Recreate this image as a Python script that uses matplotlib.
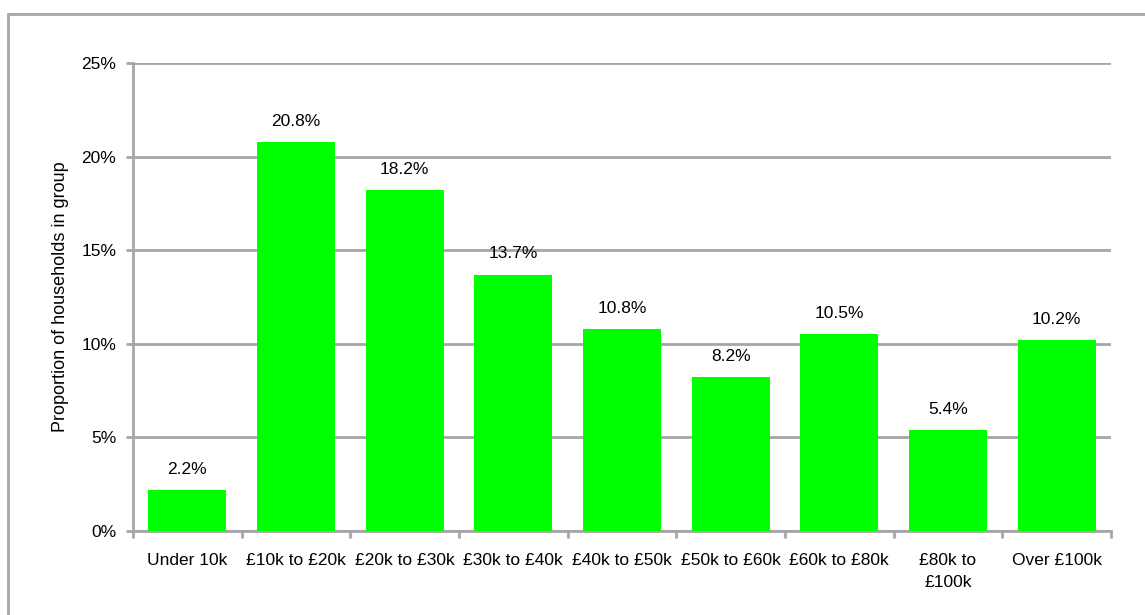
import matplotlib
matplotlib.use("Agg")
import matplotlib.pyplot as plt
from matplotlib.patches import Rectangle
from matplotlib.ticker import FuncFormatter, FixedLocator

plt.rcParams['font.family'] = ['Liberation Sans', 'DejaVu Sans']

# Household income bands and share of households
bandas = ["Under 10k", "£10k to £20k", "£20k to £30k", "£30k to £40k",
          "£40k to £50k", "£50k to £60k", "£60k to £80k", "£80k to\n£100k",
          "Over £100k"]
valores = [2.2, 20.8, 18.2, 13.7, 10.8, 8.2, 10.5, 5.4, 10.2]

GRIS = "#A6A6A6"
VERDE = "#00FF00"

fig = plt.figure(figsize=(11.45, 6.15), dpi=100)
ax = fig.add_axes([133/1145, 1-531/615, (1111-133)/1145, (531-63)/615])

# marco exterior del gráfico
fig.patches.append(Rectangle((8/1145, -0.05), 1.1, 1-14/615+0.05,
                             transform=fig.transFigure, fill=False,
                             edgecolor=GRIS, linewidth=2, clip_on=False))

x = range(len(bandas))
ax.bar(x, valores, width=0.72, color=VERDE, zorder=3)
for xi, v in zip(x, valores):
    ax.text(xi, v + 0.7, f"{v:.1f}%", ha="center", va="bottom", fontsize=12.5)

ax.set_xlim(-0.5, len(bandas) - 0.5)
ax.set_ylim(0, 25)
ax.set_yticks(range(0, 26, 5))
ax.yaxis.set_major_formatter(FuncFormatter(lambda v, p: f"{v:.0f}%"))
ax.grid(axis="y", color=GRIS, linewidth=2, zorder=0)

ax.set_xticks(list(x))
ax.set_xticklabels(bandas, fontsize=12.5, linespacing=1.6)
ax.tick_params(axis="x", length=0, pad=16)
ax.xaxis.set_minor_locator(FixedLocator([i - 0.5 for i in range(len(bandas) + 1)]))
ax.tick_params(axis="x", which="minor", length=5, width=2, color=GRIS)
ax.tick_params(axis="y", length=5, width=2, color=GRIS, labelsize=12.5, pad=7)

for s in ["top", "right"]:
    ax.spines[s].set_visible(False)
for s in ["left", "bottom"]:
    ax.spines[s].set_color(GRIS)
    ax.spines[s].set_linewidth(2)

ax.set_ylabel("Proportion of households in group", fontsize=13, labelpad=9)

fig.savefig("out.png", dpi=100)
